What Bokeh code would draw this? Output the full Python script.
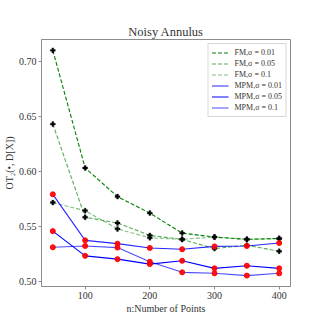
from bokeh.plotting import figure
from bokeh.embed import file_html
from bokeh.resources import INLINE
from bokeh.models import FixedTicker, NumeralTickFormatter, Range1d

n_points = [50, 100, 150, 200, 250, 300, 350, 400]

fm_001 = [0.7104, 0.6034, 0.5773, 0.5623, 0.5441, 0.5405, 0.5384, 0.5393]
fm_005 = [0.6433, 0.5585, 0.5533, 0.5420, 0.5384, 0.5300, 0.5330, 0.5276]
fm_01 = [0.5719, 0.5645, 0.5479, 0.5398, 0.5384, 0.5405, 0.5384, 0.5390]

mpm_001 = [0.5794, 0.5375, 0.5345, 0.5306, 0.5294, 0.5320, 0.5324, 0.5351]
mpm_005 = [0.5459, 0.5234, 0.5204, 0.5159, 0.5189, 0.5120, 0.5144, 0.5120]
mpm_01 = [0.5312, 0.5324, 0.5309, 0.5180, 0.5084, 0.5075, 0.5054, 0.5075]

x_ticks = [100, 200, 300, 400]
y_ticks = [0.50, 0.55, 0.60, 0.65, 0.70]

FONT = "Liberation Serif"
TXT = "#333333"

p = figure(width=316, height=316, output_backend="svg", toolbar_location=None,
           title="Noisy Annulus",
           x_range=Range1d(32.5, 417.5), y_range=Range1d(0.4955, 0.7203),
           min_border_left=34, min_border_right=26, min_border_top=39, min_border_bottom=27)

p.title.align = "center"
p.title.text_font = FONT
p.title.text_font_size = "12.5px"
p.title.text_font_style = "normal"
p.title.text_color = TXT
p.title.standoff = 2

p.xgrid.visible = False
p.ygrid.visible = False
p.outline_line_color = "#8c8c8c"
p.outline_line_width = 1

for ax in (p.xaxis[0], p.yaxis[0]):
    ax.axis_line_color = "#8c8c8c"
    ax.major_tick_line_color = "#8c8c8c"
    ax.major_tick_out = 3
    ax.major_tick_in = 0
    ax.minor_tick_line_color = None
    ax.major_label_text_font = FONT
    ax.major_label_text_font_size = "10px"
    ax.major_label_text_color = TXT
    ax.axis_label_text_font = FONT
    ax.axis_label_text_font_size = "10px"
    ax.axis_label_text_font_style = "normal"
    ax.axis_label_text_color = TXT
    ax.major_label_standoff = 2
    ax.axis_label_standoff = 1

p.xaxis.ticker = FixedTicker(ticks=x_ticks)
p.yaxis.ticker = FixedTicker(ticks=y_ticks)
p.yaxis.formatter = NumeralTickFormatter(format="0.00")
p.xaxis.axis_label = "n:Number of Points"
p.yaxis.axis_label = "OT\u2082(\u2022, D[X])"

fm_series = [(fm_001, "FM,\u03c3 = 0.01", 1.0), (fm_005, "FM,\u03c3 = 0.05", 0.65),
             (fm_01, "FM,\u03c3 = 0.1", 0.5)]
mpm_series = [(mpm_001, "MPM,\u03c3 = 0.01", 0.85), (mpm_005, "MPM,\u03c3 = 0.05", 1.0),
              (mpm_01, "MPM,\u03c3 = 0.1", 0.7)]

for ys, lab, a in fm_series:
    p.line(n_points, ys, line_color="green", line_alpha=a, line_width=1.1,
           line_dash="4 2", legend_label=lab)
    p.scatter(n_points, ys, marker="plus", size=5, fill_color="black",
              line_color="black", line_width=0.3)

for ys, lab, a in mpm_series:
    p.line(n_points, ys, line_color="blue", line_alpha=a, line_width=1.1,
           legend_label=lab)
    p.scatter(n_points, ys, marker="circle", size=5, fill_color="red",
              line_color="red", fill_alpha=0.9)

lg = p.legend[0]
lg.location = "top_right"
lg.margin = 4
lg.padding = 3
lg.spacing = 0
lg.label_height = 11
lg.glyph_height = 11
lg.glyph_width = 17
lg.label_standoff = 6
lg.label_text_font = FONT
lg.label_text_font_size = "8px"
lg.label_text_color = TXT
lg.border_line_color = "#cccccc"
lg.border_line_alpha = 0.8
lg.background_fill_alpha = 0.8

open("out.html", "w").write(file_html(p, INLINE))
